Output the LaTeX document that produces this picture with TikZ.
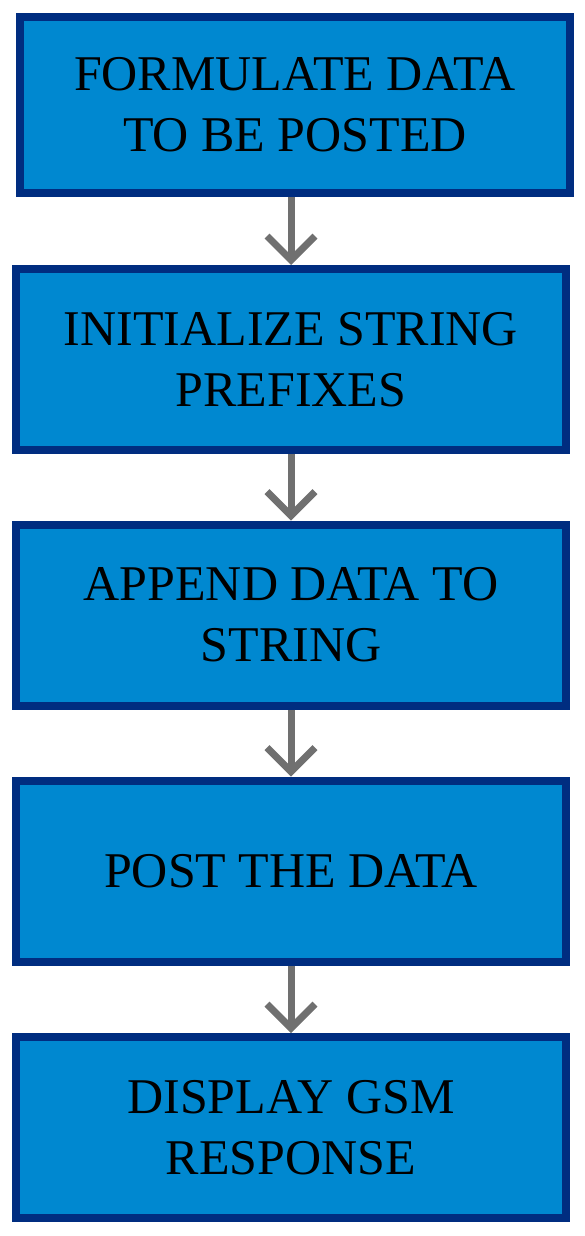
\documentclass[tikz,border=0pt]{standalone}
\usepackage{fontspec}
\setmainfont{Liberation Serif}
\usepackage{tikz}
\usetikzlibrary{arrows.meta}
\definecolor{boxfill}{RGB}{0,136,208}
\definecolor{boxline}{RGB}{0,45,128}
\definecolor{arrowgray}{RGB}{112,112,112}

\begin{document}
\begin{tikzpicture}[every node/.style={font=\fontsize{25}{30.5}\selectfont}, flowbox/.style={draw=boxline, line width=4pt, fill=boxfill, minimum width=275pt, minimum height=90.5pt, align=center, inner sep=0pt, anchor=center}, flowarrow/.style={draw=arrowgray, line width=3.5pt, -{Straight Barb[length=12pt, width=24pt]}, shorten <=0pt, shorten >=0pt}]
	\useasboundingbox (0pt,0pt) rectangle (292pt,-618pt);
	\node (formulate) [flowbox, minimum height=88pt] at (147.5pt,-52.5pt) {FORMULATE DATA\\TO BE POSTED};
	\node (prefixes) [flowbox] at (145.5pt,-179.75pt) {INITIALIZE STRING\\PREFIXES};
	\node (append) [flowbox] at (145.5pt,-307.5pt) {APPEND DATA TO\\STRING};
	\node (post) [flowbox] at (145.5pt,-435.5pt) {POST THE DATA};
	\node (display) [flowbox] at (145.5pt,-563.75pt) {DISPLAY GSM\\RESPONSE};
	\draw[flowarrow] (formulate.south -| prefixes.north) -- (prefixes.north);
	\draw[flowarrow] (prefixes.south) -- (append.north);
	\draw[flowarrow] (append.south) -- (post.north);
	\draw[flowarrow] (post.south) -- (display.north);
\end{tikzpicture}
\end{document}
